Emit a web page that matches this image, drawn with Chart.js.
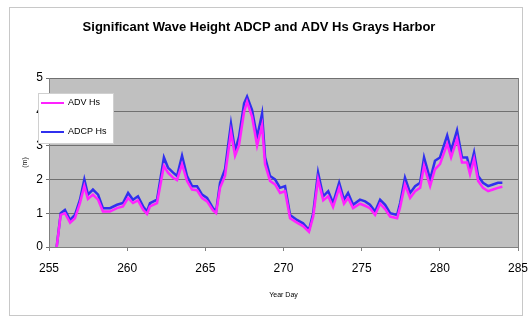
<!DOCTYPE html>
<html>
<head>
<meta charset="utf-8">
<script src="https://cdn.jsdelivr.net/npm/chart.js@4/dist/chart.umd.min.js"></script>
<style>
  html, body { margin: 0; padding: 0; background: #ffffff; }
  #wrap { position: relative; width: 530px; height: 318px; }
</style>
</head>
<body>
<div id="wrap"><canvas id="c" width="530" height="318"></canvas></div>
<script>
const chartTitle = "Significant Wave Height ADCP and ADV Hs Grays Harbor";
const xTitle = "Year Day";
const yTitle = "(m)";
const seriesNames = ["ADV Hs", "ADCP Hs"];

const yearDay = [255.49,255.75,256.02,256.35,256.66,256.98,257.26,257.49,257.81,258.14,
  258.45,258.90,259.35,259.73,260.06,260.37,260.69,261.02,261.27,261.46,
  261.91,262.35,262.61,262.94,263.19,263.51,263.83,264.15,264.47,264.79,
  265.11,265.49,265.69,265.94,266.26,266.64,266.90,267.15,267.48,267.67,
  267.99,268.31,268.63,268.82,269.14,269.46,269.78,270.10,270.42,270.86,
  271.25,271.63,271.90,272.21,272.54,272.86,273.17,273.56,273.87,274.13,
  274.45,274.89,275.22,275.53,275.86,276.18,276.50,276.82,277.27,277.46,
  277.77,278.10,278.42,278.74,278.99,279.38,279.69,280.01,280.47,280.72,
  281.10,281.42,281.74,281.93,282.19,282.45,282.76,283.09,283.40,283.72,
  284.00];

const adcpHs = [0.0,1.0,1.1,0.8,0.95,1.4,2.0,1.55,1.7,1.55,
  1.15,1.15,1.25,1.3,1.6,1.4,1.5,1.2,1.05,1.3,
  1.4,2.65,2.35,2.2,2.1,2.7,2.1,1.8,1.8,1.55,
  1.45,1.15,1.05,1.9,2.3,3.65,2.85,3.25,4.25,4.45,
  4.05,3.25,3.95,2.65,2.1,2.0,1.75,1.8,0.95,0.8,
  0.7,0.5,1.0,2.2,1.5,1.65,1.3,1.9,1.4,1.6,
  1.25,1.4,1.35,1.25,1.05,1.4,1.25,1.0,0.95,1.3,
  2.05,1.6,1.8,1.9,2.65,2.0,2.55,2.65,3.3,2.85,
  3.45,2.65,2.65,2.3,2.8,2.1,1.9,1.8,1.85,1.9,
  1.9];

const advHs = [0.0,0.95,1.0,0.72,0.85,1.3,1.8,1.42,1.55,1.4,
  1.05,1.05,1.15,1.2,1.45,1.3,1.38,1.1,0.98,1.2,
  1.3,2.4,2.2,2.05,1.98,2.45,1.95,1.7,1.68,1.45,
  1.35,1.08,1.0,1.75,2.1,3.4,2.7,3.0,4.0,4.3,
  3.85,3.0,3.6,2.45,1.95,1.85,1.6,1.65,0.85,0.72,
  0.62,0.45,0.9,2.0,1.38,1.5,1.18,1.75,1.28,1.45,
  1.15,1.28,1.22,1.15,0.95,1.28,1.12,0.9,0.85,1.18,
  1.85,1.45,1.65,1.75,2.4,1.8,2.3,2.45,3.05,2.65,
  3.2,2.5,2.5,2.15,2.6,1.95,1.75,1.65,1.7,1.75,
  1.78];

const xMin = 255, xMax = 285, xStep = 5;
const yMin = 0, yMax = 5, yStep = 1;

const toPoints = (xs, ys) => xs.map((x, i) => ({x: x, y: ys[i]}));

const FONT = "'Liberation Sans', Arial, sans-serif";

const bgPlugin = {
  id: 'bgPlugin',
  beforeDraw(chart) {
    const {ctx, chartArea: a} = chart;
    ctx.save();
    ctx.fillStyle = '#ffffff';
    ctx.fillRect(0, 0, chart.width, chart.height);
    ctx.strokeStyle = '#c8c8c8';
    ctx.lineWidth = 1;
    ctx.strokeRect(9.5, 7.5, 513, 308);
    ctx.fillStyle = '#c0c0c0';
    ctx.fillRect(a.left, a.top, a.right - a.left, a.bottom - a.top);
    ctx.restore();
  },
  afterDatasetsDraw(chart) {
    const {ctx, chartArea: a} = chart;
    ctx.save();
    ctx.strokeStyle = '#808080';
    ctx.lineWidth = 1;
    ctx.beginPath();
    ctx.moveTo(a.right + 0.5, a.top);
    ctx.lineTo(a.right + 0.5, a.bottom);
    ctx.stroke();
    // legend box
    const lx = 38, ly = 93, lw = 75, lh = 50;
    ctx.fillStyle = '#ffffff';
    ctx.fillRect(lx, ly, lw, lh);
    ctx.strokeStyle = '#d0d0d0';
    ctx.strokeRect(lx + 0.5, ly + 0.5, lw, lh);
    const ys = [103, 132];
    chart.data.datasets.forEach((ds, i) => {
      ctx.strokeStyle = ds.borderColor;
      ctx.lineWidth = 2;
      ctx.beginPath();
      ctx.moveTo(41, ys[i]);
      ctx.lineTo(64, ys[i]);
      ctx.stroke();
      ctx.fillStyle = '#000000';
      ctx.font = "9px " + FONT;
      ctx.textBaseline = 'middle';
      ctx.textAlign = 'left';
      ctx.fillText(ds.label, 68, ys[i]);
    });
    ctx.restore();
  }
};

new Chart(document.getElementById('c'), {
  type: 'line',
  data: {
    datasets: [
      {
        label: seriesNames[0],
        data: toPoints(yearDay, advHs),
        borderColor: '#ff22ff',
        borderWidth: 2.5,
        pointRadius: 0,
        tension: 0,
        fill: false
      },
      {
        label: seriesNames[1],
        data: toPoints(yearDay, adcpHs),
        borderColor: '#3030ee',
        borderWidth: 2.5,
        pointRadius: 0,
        tension: 0,
        fill: false
      }
    ]
  },
  options: {
    responsive: false,
    animation: false,
    events: [],
    layout: { padding: { left: 0, right: 12, top: 0, bottom: 0 } },
    plugins: {
      legend: { display: false },
      tooltip: { enabled: false },
      title: {
        display: true,
        text: chartTitle,
        color: '#000000',
        font: { family: FONT, size: 13, weight: 'bold' },
        padding: { top: 20, bottom: 42.4 }
      }
    },
    scales: {
      x: {
        type: 'linear',
        min: xMin, max: xMax,
        afterFit(s) { s.height = 71; s.paddingLeft = 0; s.paddingRight = 0; },
        ticks: {
          stepSize: xStep,
          color: '#000000',
          font: { family: FONT, size: 12 },
          padding: 10,
          maxRotation: 0,
          callback: (v) => String(v)
        },
        grid: { drawOnChartArea: false, drawTicks: true, tickLength: 4, color: '#808080' },
        border: { display: true, color: '#808080', width: 1 },
        title: {
          display: true,
          text: xTitle,
          color: '#000000',
          font: { family: FONT, size: 7 },
          padding: { top: 0, bottom: 18.8 }
        }
      },
      y: {
        min: yMin, max: yMax,
        afterFit(s) { s.width = 49; },
        ticks: {
          stepSize: yStep,
          color: '#000000',
          font: { family: FONT, size: 12 },
          padding: 3
        },
        grid: { color: '#707070', lineWidth: 1, tickLength: 3 },
        border: { display: true, color: '#808080', width: 1 },
        title: {
          display: true,
          text: yTitle,
          color: '#000000',
          font: { family: FONT, size: 7 },
          padding: { top: 21, bottom: 0 }
        }
      }
    }
  },
  plugins: [bgPlugin]
});
</script>
</body>
</html>
